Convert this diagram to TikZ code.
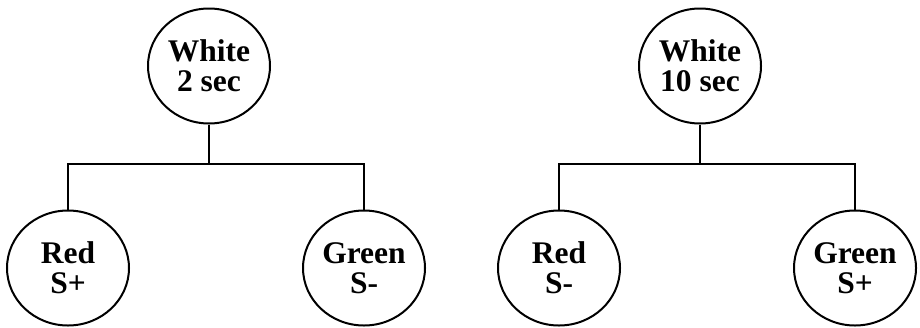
\documentclass[tikz,border=0pt]{standalone}
\usepackage{fontspec}
\setmainfont{Liberation Serif}
\usetikzlibrary{shapes.geometric}
\begin{document}
\begin{tikzpicture}[x=1pt,y=-1pt,
  state/.style={draw, ellipse, line width=2pt, minimum width=122pt, minimum height=115pt,
    inner sep=0pt, align=center, font=\bfseries\fontsize{31.5}{30}\selectfont},
  link/.style={line width=2pt}]
\useasboundingbox (0,0) rectangle (920,327);
% left tree
\node[state] (tl) at (209,66) {White\\2 sec};
\node[state] (bl1) at (68,268) {Red\\S+};
\node[state] (bl2) at (364,268) {Green\\S-};
\coordinate (jl) at (209,164);
\draw[link] (tl.south) -- (jl);
\draw[link] (bl1.north) |- (jl) -| (bl2.north);
% right tree
\node[state] (tr) at (700,66) {White\\10 sec};
\node[state] (br1) at (559,268) {Red\\S-};
\node[state] (br2) at (855,268) {Green\\S+};
\coordinate (jr) at (700,164);
\draw[link] (tr.south) -- (jr);
\draw[link] (br1.north) |- (jr) -| (br2.north);
\end{tikzpicture}
\end{document}
